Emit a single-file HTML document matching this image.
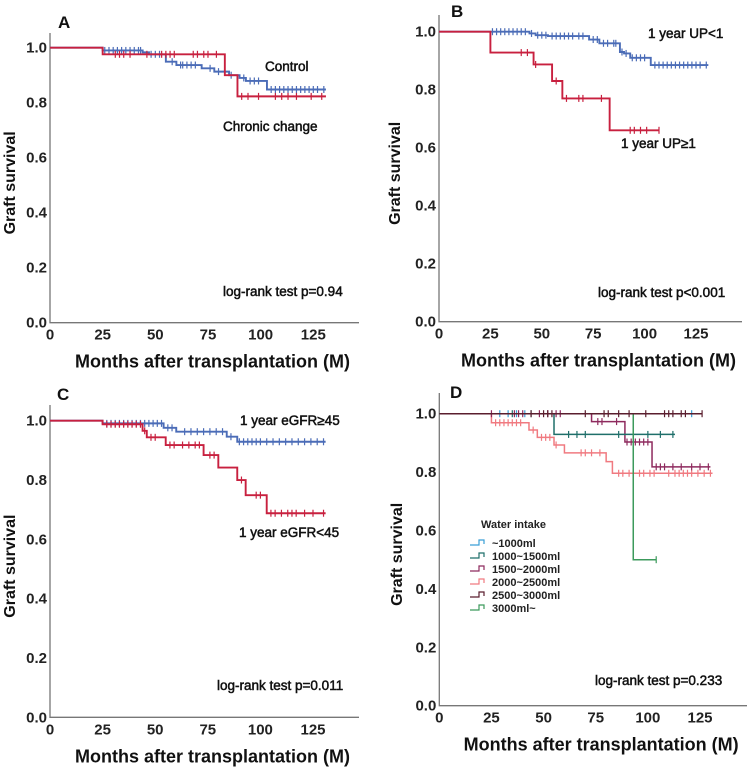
<!DOCTYPE html>
<html><head><meta charset="utf-8"><style>
body{margin:0;background:#fff;}
svg{display:block;font-family:"Liberation Sans",Arial,sans-serif;}
.tk{font-size:15px;font-weight:bold;fill:#222;}
.an{font-size:13.5px;fill:#111;stroke:#111;stroke-width:0.5;}
.xt{font-size:18px;font-weight:bold;fill:#111;}
.yt{font-size:16px;font-weight:bold;fill:#111;}
.pl{font-size:17px;font-weight:bold;fill:#111;}
.lg{font-size:11px;font-weight:bold;fill:#222;}
</style></head><body>
<svg id="fig" width="749" height="767" viewBox="0 0 749 767"></svg>
<script>
// ---- data ----
const tickMonths=[0,25,50,75,100,125];
const tickSurv=[0.0,0.2,0.4,0.6,0.8,1.0];
// Panel A
const aCtrlT=[0,25,44,47,55,60,72,78,85,90,93,103,131];
const aCtrlS=[1,0.99,0.983,0.976,0.949,0.937,0.925,0.913,0.90,0.89,0.879,0.848,0.848];
const aCtrlC=[26,28,30,32,34,36,38,40,42,43,48,50,52,58,62,63,65,67,69,76,80,83,86,92,95,97,99,105,107,109,111,113,115,117,119,121,123,125,127,130];
const aChrT=[0,25,83,89,131];
const aChrS=[1,0.976,0.90,0.823,0.823];
const aChrC=[31,33,35,38,46,53,55,57,59,68,70,73,75,79,91,94,99,107,110,113,117,124,129];
// Panel B
const bLowT=[0,44,47,53,73,78,88,90,93,103,131];
const bLowS=[1,0.994,0.988,0.985,0.973,0.96,0.93,0.925,0.91,0.885,0.885];
const bLowC=[26,28,30,32,34,36,38,40,42,45,48,50,52,55,57,59,61,63,65,68,70,75,77,80,82,85,86,89,91,94,96,98,100,105,107,109,111,113,115,117,119,121,123,125,127,130];
const bHighT=[0,25,46,55,60,83,107];
const bHighS=[1,0.928,0.887,0.83,0.77,0.66,0.66];
const bHighC=[40,43,47,57,62,68,70,79,93,95,98,101,107];
// Panel C
const cHiT=[0,25,54,60,84,89,131];
const cHiS=[1,0.991,0.976,0.963,0.946,0.929,0.929];
const cHiC=[27,29,31,33,35,37,39,41,43,45,47,49,51,53,56,58,64,67,70,73,76,79,82,86,90,92,94,96,98,100,103,106,109,112,115,118,121,124,127,130];
const cLoT=[0,25,44,46,55,73,80,89,93,103,131];
const cLoS=[1,0.988,0.966,0.944,0.918,0.884,0.842,0.80,0.749,0.688,0.688];
const cLoC=[27,29,31,33,35,37,39,41,43,45,48,50,57,59,63,66,69,71,76,78,91,98,100,105,107,110,113,115,117,121,125,130];
// Panel D
const d1T=[0,121], d1S=[1,1], d1C=[29,33,37,41,121];
const d2T=[0,55,113], d2S=[1,0.929,0.929], d2C=[35,44,62,66,70,86,93,100,106,112];
const d3T=[0,73,89,102,130], d3S=[1,0.973,0.903,0.818,0.818], d3C=[25,36,38,40,48,52,56,58,76,78,85,90,92,94,96,98,100,104,106,108,112,116,121,125,129];
const d4T=[0,25,43,47,55,60,80,83,131], d4S=[1,0.969,0.944,0.919,0.893,0.866,0.836,0.796,0.796], d4C=[27,29,31,33,35,37,39,45,49,51,53,56,68,70,73,77,86,88,91,93,96,98,101,103,110,113,115,117,119,121,124,127,130];
const d5T=[0,126], d5S=[1,1], d5C=[44,50,52,54,70,79,81,86,91,99,108,110,112,116,118,126];
const d6T=[0,93,104], d6S=[1,0.5,0.5], d6C=[104];

const NS='http://www.w3.org/2000/svg';
const svg=document.getElementById('fig');
function mk(tag,attrs,parent,txt){const e=document.createElementNS(NS,tag);for(const k in attrs)e.setAttribute(k,attrs[k]);if(txt!==undefined)e.textContent=txt;(parent||svg).appendChild(e);return e;}

function panel(p){
  const g=mk('g',{});
  
  
  const sx=m=>p.x0+(p.x125-p.x0)*m/125;
  const sy=s=>p.y0+(p.y1-p.y0)*s;
  const ax=mk('path',{d:`M${p.x0} ${p.top}V${p.y0}H${p.right}`,fill:'none',stroke:'#777','stroke-width':1.3},g);
   
  tickMonths.forEach(m=>{const t=mk('text',{x:sx(m),y:p.y0+17,'text-anchor':'middle',class:'tk'},g,String(m));
     });
  tickSurv.forEach(s=>{const t=mk('text',{x:p.x0-3,y:sy(s)+5,'text-anchor':'end',class:'tk'},g,s.toFixed(1));
     });
  const xt=mk('text',{x:(p.x0+p.right)/2+8,y:p.y0+45,'text-anchor':'middle',class:'xt'},g,'Months after transplantation (M)');
   
  const cy=(p.y0+p.top)/2+5;
  const yt=mk('text',{x:p.ytx,y:cy,'text-anchor':'middle',class:'yt',transform:`rotate(-90 ${p.ytx} ${cy})`},g,'Graft survival');
   
  const pl=mk('text',{x:p.lx,y:p.ly,class:'pl'},g,p.id);
   
  p.series.forEach(se=>{
    let d=`M${sx(se.t[0])} ${sy(se.s[0])}`;
    for(let i=1;i<se.t.length;i++){d+=`H${sx(se.t[i])}V${sy(se.s[i])}`;}
    const ln=mk('path',{d:d,fill:'none',stroke:se.c,'stroke-width':se.w||1.9},g);
     
    se.cz.forEach(m=>{let v=se.s[0];for(let i=0;i<se.t.length;i++){if(se.t[i]<=m)v=se.s[i];}
      const c=mk('path',{d:`M${sx(m)} ${sy(v)-3.5}v7`,stroke:se.c,'stroke-width':1.2},g);
       });
  });
  p.notes.forEach(n=>{const t=mk('text',{x:n[0],y:n[1],class:'an'},g,n[2]);
     });
}
const BL='#4b6cb7', RD='#c8203f';
panel({id:'A',x0:50,x125:313.3,y1:47.7,y0:322.7,top:33,right:359,ytx:15,lx:58,ly:28,
  series:[{n:'control',t:aCtrlT,s:aCtrlS,c:BL,cz:aCtrlC},{n:'chronic-change',t:aChrT,s:aChrS,c:RD,cz:aChrC}],
  notes:[[265,71,'Control','control-label'],[223,131,'Chronic change','chronic-change-label'],[223,296,'log-rank test p=0.94','p-value-label']]});
panel({id:'B',x0:439,x125:696,y1:31.7,y0:321.7,top:15,right:742,ytx:400,lx:451,ly:17,
  series:[{n:'up-low',t:bLowT,s:bLowS,c:BL,cz:bLowC},{n:'up-high',t:bHighT,s:bHighS,c:RD,cz:bHighC}],
  notes:[[648,38,'1 year UP<1','up-low-label'],[621,148,'1 year UP\u22651','up-high-label'],[598,297,'log-rank test p<0.001','p-value-label']]});
panel({id:'C',x0:50,x125:313,y1:420.7,y0:717.3,top:405,right:359,ytx:15,lx:57,ly:400,
  series:[{n:'egfr-high',t:cHiT,s:cHiS,c:BL,cz:cHiC},{n:'egfr-low',t:cLoT,s:cLoS,c:RD,cz:cLoC}],
  notes:[[240,425,'1 year eGFR\u226545','egfr-high-label'],[239,537,'1 year eGFR<45','egfr-low-label'],[217,690,'log-rank test p=0.011','p-value-label']]});
const dCols=['#3a9fd6','#1f6f6a','#8e2a5e','#f07a80','#5a1e2e','#3c9a5c'];
const dNames=['~1000ml','1000~1500ml','1500~2000ml','2000~2500ml','2500~3000ml','3000ml~'];
const dT=[d1T,d2T,d3T,d4T,d5T,d6T], dS=[d1S,d2S,d3S,d4S,d5S,d6S], dC=[d1C,d2C,d3C,d4C,d5C,d6C];
panel({id:'D',x0:439.3,x125:700,y1:413.7,y0:705.7,top:393,right:747,ytx:402,lx:450,ly:398,
  series:[3,2,1,0,5,4].map(i=>({n:'water-'+i,t:dT[i],s:dS[i],c:dCols[i],cz:dC[i],w:1.5})),
  notes:[[595,685,'log-rank test p=0.233','p-value-label']]});
const lg=mk('g',{});
 
const lt=mk('text',{x:481,y:528,class:'lg'},lg,'Water intake');
 
dNames.forEach((nm,i)=>{const y=542+i*13;
  const ic=mk('path',{d:`M470 ${y+3}h9v-5h5v4`,fill:'none',stroke:dCols[i],'stroke-width':1.2},lg);
   
  const t=mk('text',{x:492,y:y+5,class:'lg'},lg,nm);
   });
</script>
</body></html>
